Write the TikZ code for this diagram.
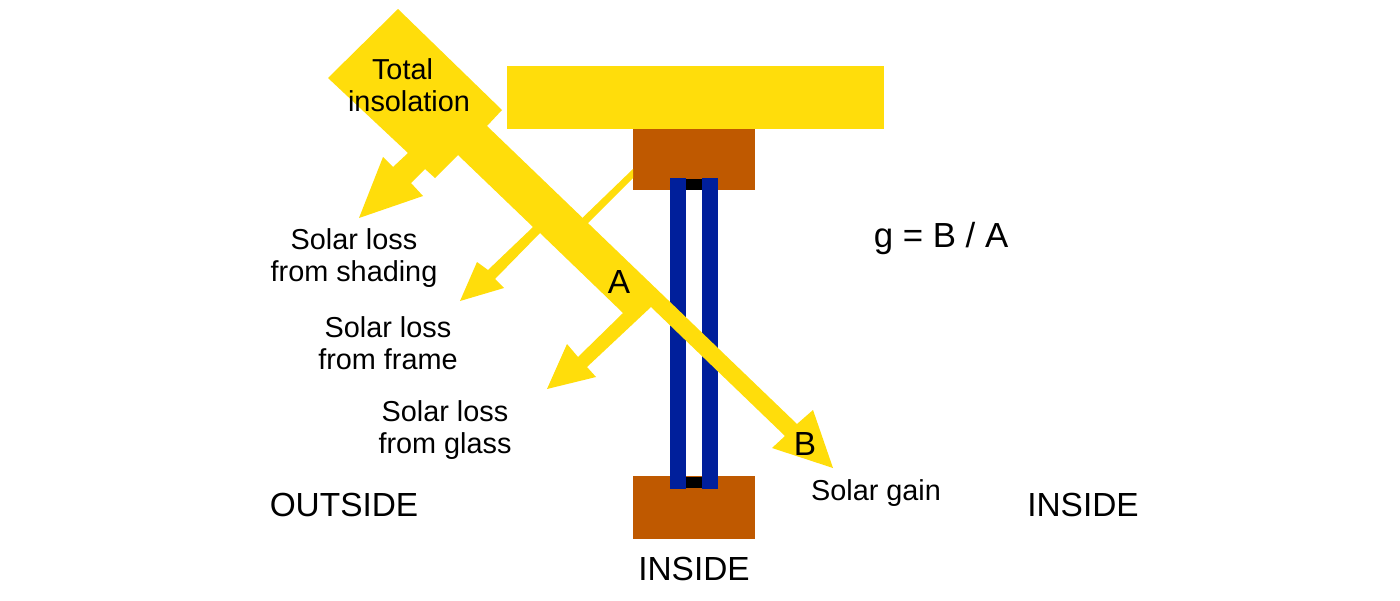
\documentclass[tikz,border=0pt]{standalone}
\usepackage{fontspec}
\setmainfont{Liberation Sans}
\tikzstyle{diagram}=[x=0.01cm, y=-0.01cm]
\tikzstyle{sun}=[fill=sunYellow]
\tikzstyle{wood}=[fill=frameBrown]
\tikzstyle{pane}=[fill=glassBlue]
\tikzstyle{spacer}=[fill=black]
\tikzstyle{lbl}=[inner sep=0pt, align=center, font=\fontsize{8.2}{9.1}\selectfont]
\tikzstyle{big}=[inner sep=0pt, font=\fontsize{9.5}{11}\selectfont]
\definecolor{sunYellow}{HTML}{FFDD0B}
\definecolor{frameBrown}{HTML}{BF5900}
\definecolor{glassBlue}{HTML}{001F9B}
\begin{document}
\begin{tikzpicture}[diagram]
	\useasboundingbox (0,0) rectangle (1400,600);
	\fill[sun] (507,66) rectangle (884,129);
	\fill[wood] (633,129) rectangle (755,190);
	\fill[wood] (633,476) rectangle (755,539);
	\fill[spacer] (686,179) rectangle (702,190);
	\fill[spacer] (686,477) rectangle (702,488);
	\fill[pane] (670,178) rectangle (686,489);
	\fill[pane] (702,178) rectangle (718,489);
	\fill[sun] (575,225) -- (633,169) -- (633,178) -- (580,231) -- cycle;
	\fill[sun] (398,9) -- (502,110) -- (487,126) -- (797,424) -- (813,410) -- (833,468)
		-- (772,448) -- (785,436) -- (651,307) -- (587,367) -- (596,377) -- (547,389)
		-- (567,344) -- (578,357) -- (623,313) -- (540,233) -- (495,279) -- (504,288)
		-- (460,301) -- (477,262) -- (488,270) -- (533,227) -- (458,155) -- (435,178)
		-- (425,169) -- (411,183) -- (423,196) -- (359,218) -- (383,157) -- (393,167)
		-- (408,153) -- (328,78) -- cycle;
	\draw (409,85) node[lbl] (total) {Total\hspace*{0.13cm}\\insolation};
	\draw (354,258) node[lbl] (shading) {Solar loss\\from shading};
	\draw (388,343) node[lbl] (frame) {Solar loss\\from frame};
	\draw (445,430) node[lbl] (glass) {Solar loss\\from glass};
	\draw (876,493) node[lbl] (gain) {Solar gain};
	\draw (619,282) node[big] (a) {A};
	\draw (805,444) node[big] (b) {B};
	\draw (941,238) node[big, font=\fontsize{9.9}{11}\selectfont] (ratio) {g = B / A};
	\draw (344,505) node[big] (outside) {OUTSIDE};
	\draw (1083,505) node[big] (inside) {INSIDE};
	\draw (694,569) node[big] (insideLow) {INSIDE};
\end{tikzpicture}
\end{document}
